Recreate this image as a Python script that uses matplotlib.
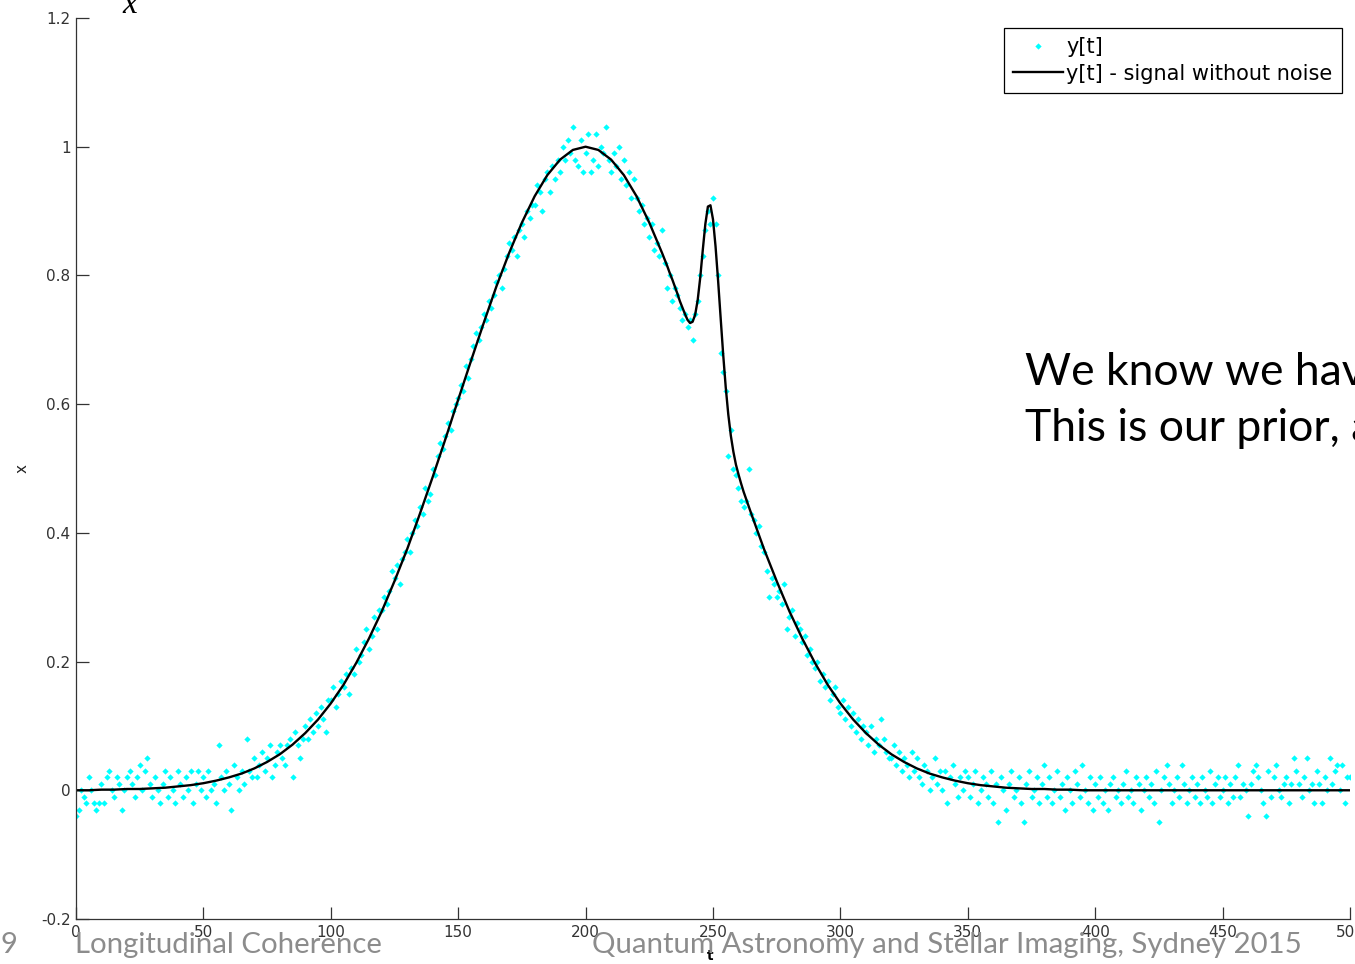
import matplotlib
matplotlib.use("Agg")
import matplotlib.pyplot as plt

# smooth signal
t_signal = list(range(0, 231, 5)) + list(range(231, 263)) + list(range(265, 501, 5))
x_signal = [
    0.000, 0.000, 0.001, 0.001, 0.002, 0.002, 0.003, 0.004, 0.006, 0.008,
    0.011, 0.015, 0.020, 0.026, 0.034, 0.044, 0.056, 0.071, 0.089, 0.110,
    0.135, 0.164, 0.198, 0.236, 0.278, 0.325, 0.375, 0.430, 0.487, 0.546,
    0.607, 0.667, 0.726, 0.783, 0.835, 0.882, 0.923, 0.956, 0.980, 0.995,
    1.000, 0.995, 0.980, 0.956, 0.923, 0.882, 0.835,
    # 231 .. 262
    0.825, 0.815, 0.804, 0.794, 0.783, 0.772, 0.760, 0.750, 0.740, 0.731,
    0.726, 0.728, 0.739, 0.762, 0.797, 0.840, 0.880, 0.907, 0.909, 0.887,
    0.845, 0.792, 0.734, 0.677, 0.626, 0.584, 0.551, 0.526, 0.506, 0.491,
    0.477, 0.464,
    # 265 .. 500
    0.430, 0.375, 0.325, 0.278, 0.236, 0.198, 0.164, 0.135, 0.110, 0.089,
    0.071, 0.056, 0.044, 0.034, 0.026, 0.020, 0.015, 0.011, 0.008, 0.006,
    0.004, 0.003, 0.002, 0.002, 0.001, 0.001,
    0.0, 0.0, 0.0, 0.0, 0.0, 0.0, 0.0, 0.0, 0.0, 0.0, 0.0,
    0.0, 0.0, 0.0, 0.0, 0.0, 0.0, 0.0, 0.0, 0.0, 0.0, 0.0,
]

# noisy samples y[t], t = 0 .. 500
t_noisy = list(range(0, 501))
y_noisy = [
    -0.04, -0.03, 0.00, -0.01, -0.02, 0.02, 0.00, -0.02, -0.03, -0.02,
    0.01, -0.02, 0.02, 0.03, 0.00, -0.01, 0.02, 0.01, -0.03, 0.00,
    0.02, 0.03, 0.01, -0.01, 0.02, 0.04, 0.00, 0.03, 0.05, 0.01,
    -0.01, 0.02, 0.00, -0.02, 0.01, 0.03, -0.01, 0.02, 0.00, -0.02,
    0.03, 0.01, -0.01, 0.02, 0.00, 0.03, -0.02, 0.01, 0.03, 0.00,
    0.02, -0.01, 0.03, 0.00, 0.01, -0.02, 0.07, 0.02, 0.00, 0.03,
    0.01, -0.03, 0.04, 0.02, 0.00, 0.03, 0.01, 0.08, 0.03, 0.02,
    0.05, 0.02, 0.04, 0.06, 0.03, 0.05, 0.07, 0.02, 0.04, 0.06,
    0.07, 0.05, 0.04, 0.07, 0.08, 0.02, 0.09, 0.07, 0.05, 0.08,
    0.10, 0.08, 0.11, 0.09, 0.12, 0.10, 0.13, 0.11, 0.09, 0.14,
    0.14, 0.16, 0.13, 0.15, 0.17, 0.16, 0.18, 0.15, 0.19, 0.18,
    0.22, 0.20, 0.21, 0.23, 0.25, 0.22, 0.24, 0.27, 0.25, 0.28,
    0.28, 0.30, 0.29, 0.31, 0.34, 0.33, 0.35, 0.32, 0.36, 0.37,
    0.39, 0.37, 0.40, 0.42, 0.41, 0.44, 0.43, 0.47, 0.45, 0.46,
    0.50, 0.49, 0.52, 0.54, 0.53, 0.55, 0.57, 0.56, 0.59, 0.60,
    0.61, 0.63, 0.62, 0.66, 0.64, 0.67, 0.69, 0.71, 0.70, 0.72,
    0.74, 0.73, 0.76, 0.75, 0.77, 0.79, 0.80, 0.78, 0.81, 0.83,
    0.85, 0.84, 0.86, 0.83, 0.87, 0.88, 0.86, 0.90, 0.89, 0.91,
    0.91, 0.94, 0.93, 0.90, 0.95, 0.96, 0.93, 0.97, 0.95, 0.98,
    0.96, 1.00, 0.98, 1.01, 0.99, 1.03, 0.98, 0.97, 1.01, 0.96,
    0.99, 1.02, 0.96, 0.98, 1.02, 0.97, 1.00, 0.99, 1.03, 0.98,
    0.96, 0.99, 0.97, 1.00, 0.95, 0.98, 0.94, 0.96, 0.92, 0.95,
    0.92, 0.90, 0.91, 0.88, 0.89, 0.86, 0.88, 0.84, 0.85, 0.83,
    0.87, 0.82, 0.78, 0.80, 0.76, 0.78, 0.77, 0.75, 0.73, 0.74,
    0.72, 0.73, 0.70, 0.74, 0.76, 0.80, 0.83, 0.87, 0.90, 0.88,
    0.92, 0.88, 0.80, 0.68, 0.65, 0.62, 0.52, 0.56, 0.50, 0.49,
    0.47, 0.45, 0.44, 0.45, 0.50, 0.43, 0.42, 0.40, 0.41, 0.38,
    0.37, 0.34, 0.30, 0.33, 0.32, 0.30, 0.31, 0.29, 0.32, 0.25,
    0.27, 0.28, 0.24, 0.26, 0.25, 0.23, 0.24, 0.21, 0.22, 0.20,
    0.19, 0.20, 0.17, 0.18, 0.16, 0.17, 0.14, 0.15, 0.16, 0.13,
    0.12, 0.14, 0.11, 0.13, 0.10, 0.12, 0.09, 0.11, 0.08, 0.10,
    0.09, 0.07, 0.10, 0.06, 0.08, 0.07, 0.11, 0.08, 0.06, 0.05,
    0.05, 0.07, 0.04, 0.06, 0.03, 0.05, 0.04, 0.02, 0.06, 0.03,
    0.05, 0.02, 0.01, 0.04, 0.03, 0.00, 0.02, 0.05, 0.01, 0.03,
    0.00, 0.03, -0.02, 0.02, 0.04, 0.01, -0.01, 0.02, 0.00, 0.03,
    0.02, -0.01, 0.01, 0.03, -0.02, 0.00, 0.02, 0.01, -0.01, 0.03,
    -0.02, 0.01, -0.05, 0.02, 0.00, -0.03, 0.01, 0.03, -0.01, 0.00,
    0.02, -0.02, -0.05, 0.01, 0.03, -0.01, 0.00, 0.02, -0.02, 0.01,
    0.04, -0.01, 0.02, -0.02, 0.00, 0.03, -0.01, 0.01, -0.03, 0.02,
    0.00, -0.02, 0.03, 0.01, -0.01, 0.04, 0.00, -0.02, 0.02, -0.03,
    0.01, -0.01, 0.02, -0.02, 0.00, -0.03, 0.01, 0.02, -0.01, 0.00,
    -0.02, 0.01, 0.03, -0.01, 0.00, -0.02, 0.02, 0.01, -0.03, 0.00,
    0.02, -0.01, 0.01, -0.02, 0.03, -0.05, 0.00, 0.02, 0.04, 0.01,
    -0.02, 0.00, 0.02, -0.01, 0.04, 0.01, -0.02, 0.00, 0.02, -0.01,
    0.01, -0.02, 0.02, 0.00, -0.01, 0.03, -0.02, 0.01, 0.02, -0.01,
    0.00, 0.02, -0.02, 0.01, -0.01, 0.02, 0.04, -0.01, 0.01, 0.00,
    -0.04, 0.01, 0.03, 0.04, 0.02, 0.00, -0.02, -0.04, 0.03, -0.01,
    0.02, 0.04, 0.00, -0.01, 0.01, 0.02, -0.02, 0.01, 0.05, 0.03,
    0.01, -0.01, 0.02, 0.05, 0.00, 0.01, -0.02, 0.03, 0.01, -0.02,
    0.02, 0.00, 0.05, 0.01, 0.03, 0.04, 0.00, 0.04, -0.02, 0.02,
    0.02,
]

x_ticks = [0, 50, 100, 150, 200, 250, 300, 350, 400, 450, 500]
x_tick_labels = ["0", "50", "100", "150", "200", "250", "300", "350", "400", "450", "500"]
y_ticks = [-0.2, 0, 0.2, 0.4, 0.6, 0.8, 1.0, 1.2]
y_tick_labels = ["-0.2", "0", "0.2", "0.4", "0.6", "0.8", "1", "1.2"]

W, H = 1355, 964


def fx(x):
    return x / W


def fy(y):
    return 1 - y / H


fig = plt.figure(figsize=(W / 100, H / 100), dpi=100)
ax = fig.add_axes([fx(76), fy(919), 1274 / W, 901 / H])

ax.plot(t_noisy, y_noisy, linestyle="none", marker="D", ms=3.2,
        mfc="#00ffff", mec="#00ffff", mew=0, label="y[t]")
ax.plot(t_signal, x_signal, color="black", lw=1.7,
        label="y[t] - signal without noise")

ax.set_xlim(0, 500)
ax.set_ylim(-0.2, 1.2)
ax.set_xticks(x_ticks)
ax.set_xticklabels(x_tick_labels)
ax.set_yticks(y_ticks)
ax.set_yticklabels(y_tick_labels)
for s in ["top", "right"]:
    ax.spines[s].set_visible(False)
for s in ["left", "bottom"]:
    ax.spines[s].set_color("#333333")
    ax.spines[s].set_linewidth(0.9)
ax.tick_params(direction="in", length=9, width=0.9, colors="#333333",
               labelsize=11, pad=4)

leg = ax.legend(loc="upper right", bbox_to_anchor=(fx(1342), fy(28)),
                bbox_transform=fig.transFigure, borderaxespad=0,
                fancybox=False, framealpha=1, edgecolor="black",
                prop={"family": "DejaVu Sans", "size": 15},
                numpoints=1, handlelength=2.4, handletextpad=0.15,
                borderpad=0.45, labelspacing=0.3)
leg.get_frame().set_linewidth(0.9)

# axis labels
fig.text(fx(22), fy(468), "x", rotation=90, fontsize=11, color="#222222",
         ha="center", va="center")
fig.text(fx(710), fy(956), "t", fontsize=10, color="black", fontweight="bold",
         ha="center", va="center")
fig.text(fx(130), fy(13), "x", fontsize=24, style="italic",
         family="Liberation Serif", ha="center", va="baseline")

# slide text
fig.text(fx(1025), fy(385), "We know we have", fontsize=32, family="Lato",
         ha="left", va="baseline")
fig.text(fx(1025), fy(441), "This is our prior, a", fontsize=32, family="Lato",
         ha="left", va="baseline")

# footer
footer_color = "#8c8c8c"
renderer = fig.canvas.get_renderer()


def fit_text(x0, x1, s):
    t = fig.text(fx(x0), fy(953), s, fontsize=22, family="Lato",
                 color=footer_color, ha="left", va="baseline", zorder=10)
    w = t.get_window_extent(renderer).width
    t.set_fontsize(22 * (x1 - x0) / w)
    return t


fig.text(fx(0), fy(953), "9", fontsize=21, family="Lato", color=footer_color,
         ha="left", va="baseline")
fit_text(75, 381, "Longitudinal Coherence")
fit_text(592, 1299, "Quantum Astronomy and Stellar Imaging, Sydney 2015")

fig.savefig("out.png", dpi=100)
